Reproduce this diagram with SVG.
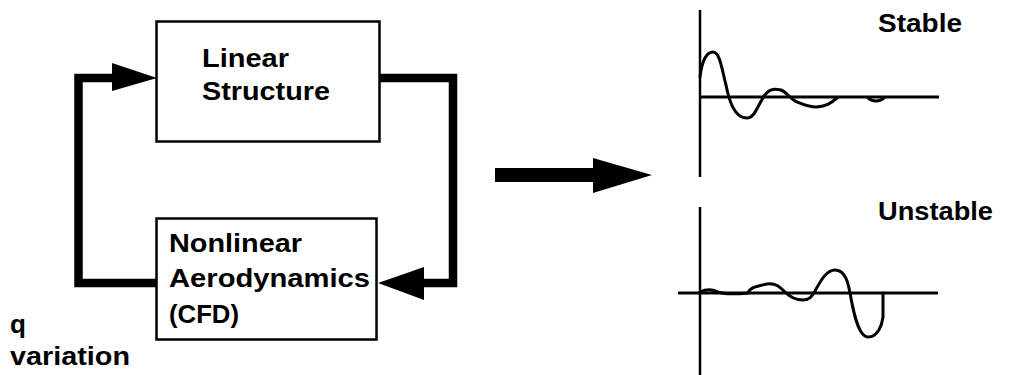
<svg xmlns="http://www.w3.org/2000/svg" width="1016" height="375" viewBox="0 0 1016 375">
<style>
.box{fill:#fff;stroke:#000;stroke-width:2.5}
.t{font-family:"Liberation Sans",Arial,sans-serif;font-weight:bold;font-size:26px;fill:#000}
.loop{fill:none;stroke:#000;stroke-width:8.5;stroke-linejoin:miter}
.ax{fill:none;stroke:#000;stroke-width:2.5}
.crv{fill:none;stroke:#000;stroke-width:3;stroke-linejoin:round;stroke-linecap:round}
</style>
<rect width="1016" height="375" fill="#fff"/>
<g id="connectors">
<polyline class="loop" points="157,283 78.5,283 78.5,78 114,78"/>
<polygon points="112,63 157,78 112,91" fill="#000"/>
<polyline class="loop" points="380,78 453,78 453,283 420,283"/>
<polygon points="424,267 378,283 424,300" fill="#000"/>
<rect x="495" y="168" width="100" height="14" fill="#000"/>
<polygon points="593,158 652,175 593,193" fill="#000"/>
</g>
<g id="linear-structure">
<rect class="box" x="156.5" y="21.5" width="223" height="120"/>
<text class="t" x="202" y="67" textLength="87" lengthAdjust="spacingAndGlyphs">Linear</text>
<text class="t" x="202" y="100" textLength="128" lengthAdjust="spacingAndGlyphs">Structure</text>
</g>
<g id="nonlinear-aero">
<rect class="box" x="156.5" y="218.5" width="220" height="121"/>
<text class="t" x="169" y="252" textLength="133" lengthAdjust="spacingAndGlyphs">Nonlinear</text>
<text class="t" x="169" y="287" textLength="201" lengthAdjust="spacingAndGlyphs">Aerodynamics</text>
<text class="t" x="169" y="323" textLength="70" lengthAdjust="spacingAndGlyphs">(CFD)</text>
</g>
<g id="q-variation">
<text class="t" x="10" y="333">q</text>
<text class="t" x="10" y="365" textLength="120" lengthAdjust="spacingAndGlyphs">variation</text>
</g>
<g id="stable-plot">
<line class="ax" x1="700" y1="10" x2="700" y2="177"/>
<line class="ax" x1="700" y1="97" x2="939" y2="97" style="stroke-width:3"/>
<path class="crv" d="M700,77 C702,60 707,52 713,52 C720,52 722,70 726,85 C729,100 734,118 747,118 C755,118 758,104 765,95 C770,88 776,89 781,90 C786,92 789,97 795,101 C802,104 808,107 817,107 C826,106 830,104 837,98"/>
<path class="crv" d="M868,98 C872,102 880,102 884,98"/>
<text class="t" x="878" y="32" textLength="84" lengthAdjust="spacingAndGlyphs">Stable</text>
</g>
<g id="unstable-plot">
<line class="ax" x1="700" y1="207" x2="700" y2="375"/>
<line class="ax" x1="678" y1="293" x2="938" y2="293" style="stroke-width:3"/>
<path class="crv" d="M700,292 C706,289 712,289 718,292 C724,294 738,294 748,293 C750,287 758,286 767,284 C776,283 780,287 785,292 C790,297 795,300 803,300 C810,300 812,296 815,291 C820,282 826,270 835,270 C845,270 848,282 850,293 C853,310 858,337 868,337 C878,337 882,325 883,317 L883,293"/>
<text class="t" x="878" y="220" textLength="115" lengthAdjust="spacingAndGlyphs">Unstable</text>
</g>
</svg>
